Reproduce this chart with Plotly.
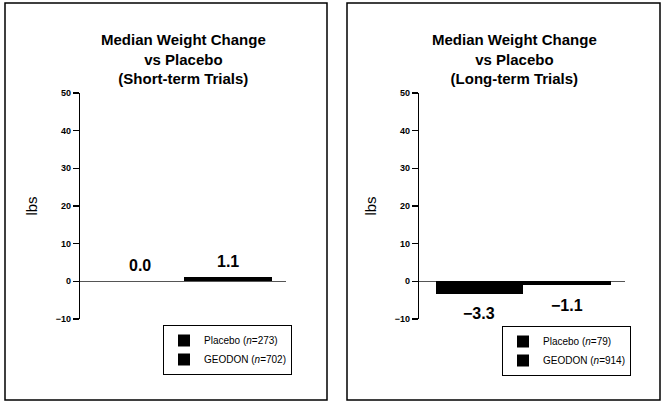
import plotly.graph_objects as go

# ---- data ----
groups = ["Placebo", "GEODON"]
short_values = [0.0, 1.1]
long_values = [-3.3, -1.1]
short_legend = ["Placebo (<i>n</i>=273)", "GEODON (<i>n</i>=702)"]
long_legend = ["Placebo (<i>n</i>=79)", "GEODON (<i>n</i>=914)"]
titles = ["Median Weight Change<br>vs Placebo<br>(Short-term Trials)",
          "Median Weight Change<br>vs Placebo<br>(Long-term Trials)"]
y_ticks = [-10, 0, 10, 20, 30, 40, 50]
y_title = "lbs"

W, H = 663, 405
FONT = "Liberation Sans, Arial, Helvetica, sans-serif"

fig = go.Figure()

panels = [
    dict(vals=short_values, leg=short_legend, xa="x", ya="y", legend="legend", title=titles[0]),
    dict(vals=long_values, leg=long_legend, xa="x2", ya="y2", legend="legend2", title=titles[1]),
]

for p in panels:
    for g, v, name in zip(groups, p["vals"], p["leg"]):
        fig.add_trace(go.Bar(
            x=[g], y=[v], name=name, xaxis=p["xa"], yaxis=p["ya"],
            legend=p["legend"], width=1.0,
            marker=dict(color="#000000", line=dict(width=0)),
            hoverinfo="skip",
        ))
        txt = f"{v:.1f}".replace("-", "\u2212")
        fig.add_annotation(
            x=g, y=v, xref=p["xa"], yref=p["ya"], text=f"<b>{txt}</b>",
            showarrow=False, yanchor="middle",
            yshift=(16 if v >= 0 else -20),
            font=dict(family=FONT, size=16, color="#000"),
        )

xdom = [[80 / W, 286 / W], [419 / W, 625 / W]]
ydom = [1 - 319 / H, 1 - 93 / H]

axis_y = dict(
    range=[-10, 50], tickvals=y_ticks,
    ticktext=[str(t).replace("-", "\u2212") for t in y_ticks],
    showline=True, linecolor="#000", linewidth=1.2,
    ticks="outside", ticklen=6, tickcolor="#000", tickwidth=1.2,
    showgrid=False, zeroline=True, zerolinecolor="#555", zerolinewidth=1.2,
    tickfont=dict(family=FONT, size=9, color="#000", weight="bold"),
    title=dict(text=y_title, font=dict(family=FONT, size=15, color="#000"), standoff=14),
    domain=ydom, automargin=False, fixedrange=True,
)
axis_x = dict(
    range=[-0.69, 1.66], showline=False, showticklabels=False, ticks="",
    showgrid=False, zeroline=False, automargin=False, fixedrange=True,
)

leg_common = dict(xanchor="left", yanchor="middle",
                  bordercolor="#000", borderwidth=1, bgcolor="white",
                  font=dict(family=FONT, size=10, color="#000"),
                  itemwidth=30, tracegroupgap=0, traceorder="normal")

fig.update_layout(
    width=W, height=H,
    margin=dict(l=0, r=0, t=0, b=0),
    paper_bgcolor="white", plot_bgcolor="white",
    barmode="overlay", bargap=0,
    showlegend=True,
    xaxis=dict(axis_x, domain=xdom[0], anchor="y"),
    xaxis2=dict(axis_x, domain=xdom[1], anchor="y2"),
    yaxis=dict(axis_y, anchor="x"),
    yaxis2=dict(axis_y, anchor="x2"),
    legend=dict(leg_common, x=163 / W, y=1 - 350 / H),
    legend2=dict(leg_common, x=502 / W, y=1 - 351 / H),
    font=dict(family=FONT, color="#000"),
)

# titles
for t, cx in zip(titles, [183 / W, 514 / W]):
    fig.add_annotation(x=cx, y=1 - 29 / H, xref="paper", yref="paper",
                       text=f"<b>{t}</b>", showarrow=False, xanchor="center",
                       yanchor="top", align="center",
                       font=dict(family=FONT, size=15, color="#000"))

# panel borders
for x0, x1 in [(5, 327), (347, 660)]:
    fig.add_shape(type="rect", xref="paper", yref="paper",
                  x0=x0 / W, x1=x1 / W, y0=1 - 400 / H, y1=1 - 3 / H,
                  line=dict(color="#000", width=1.5), fillcolor="rgba(0,0,0,0)")

fig.write_html("out.html", config={"displayModeBar": False, "staticPlot": True},
               post_script="document.body.style.margin='0';document.body.style.overflow='hidden';")
